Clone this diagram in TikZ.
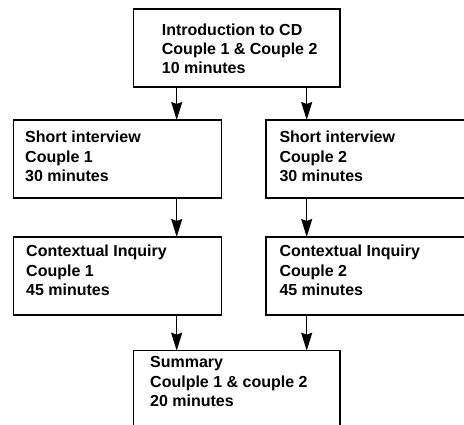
\documentclass[tikz,border=0pt]{standalone}
\usepackage{fontspec}
\setmainfont{Liberation Sans}
\usetikzlibrary{arrows.meta}
\begin{document}
\begin{tikzpicture}[x=1pt,y=-1pt,
  box/.style={draw=black, line width=1.6pt, inner sep=0pt, outer sep=0pt,
              anchor=north west, minimum width=208pt, minimum height=78pt},
  % anchored at the baseline of the last line
  txt/.style={anchor=base west, align=left, inner sep=0pt,
              font=\bfseries\fontsize{16}{19.4}\selectfont},
  arr/.style={line width=1.5pt, -{Stealth[length=18pt, width=11pt, inset=2pt]}}]
  \fill[white] (0,0) rectangle (464,425);
  \useasboundingbox (0,0) rectangle (464,425);
  \clip (0,0) rectangle (464,425);

  % column positions of the arrows
  \coordinate (colL) at (176.7,0);
  \coordinate (colR) at (306.7,0);

  % boxes
  \node[box, minimum width=206.7pt] (intro) at (133.3,9.3) {};
  \node[box] (s1) at (13.3,120) {};
  \node[box] (s2) at (266,120) {};
  \node[box] (c1) at (13.3,237) {};
  \node[box] (c2) at (266,237) {};
  \node[box, minimum width=206.7pt, minimum height=90pt] (sum) at (133.3,350.7) {};

  % texts
  \node[txt] (introt) at (161.7,74) {Introduction to CD\\Couple 1 \& Couple 2\\10 minutes};
  \node[txt] (s1t) at (25,181.7) {Short interview\\Couple 1\\30 minutes};
  \node[txt] (s2t) at (279.3,181.7) {Short interview\\Couple 2\\30 minutes};
  \node[txt] (c1t) at (26,295.5) {Contextual Inquiry\\Couple 1\\45 minutes};
  \node[txt] (c2t) at (279.3,295.5) {Contextual Inquiry\\Couple 2\\45 minutes};
  \node[txt] (sumt) at (150,406.7) {Summary\\Coulple 1 \& couple 2\\20 minutes};

  % connectors
  \draw[arr] (intro.south -| colL) -- (s1.north -| colL);
  \draw[arr] (intro.south -| colR) -- (s2.north -| colR);
  \draw[arr] (s1.south -| colL) -- (c1.north -| colL);
  \draw[arr] (s2.south -| colR) -- (c2.north -| colR);
  \draw[arr] (c1.south -| colL) -- (sum.north -| colL);
  \draw[arr] (c2.south -| colR) -- (sum.north -| colR);
\end{tikzpicture}
\end{document}
